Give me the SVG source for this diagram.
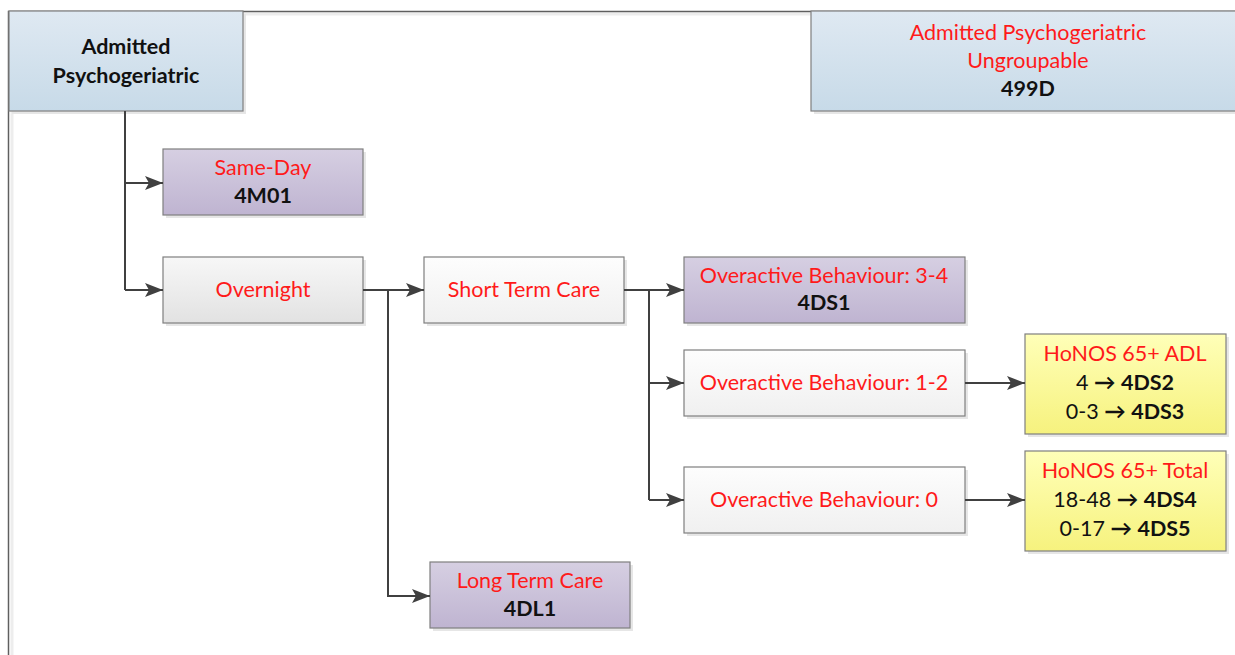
<svg xmlns="http://www.w3.org/2000/svg" width="1235" height="655" viewBox="0 0 1235 655">
  <defs>
    <linearGradient id="gBlue" x1="0" y1="0" x2="0" y2="1">
      <stop offset="0" stop-color="#dfe9f2"/>
      <stop offset="1" stop-color="#c7dae8"/>
    </linearGradient>
    <linearGradient id="gPurple" x1="0" y1="0" x2="0" y2="1">
      <stop offset="0" stop-color="#d6cfe2"/>
      <stop offset="1" stop-color="#bfb4d1"/>
    </linearGradient>
    <linearGradient id="gGray" x1="0" y1="0" x2="0" y2="1">
      <stop offset="0" stop-color="#f7f7f7"/>
      <stop offset="1" stop-color="#e2e2e2"/>
    </linearGradient>
    <linearGradient id="gWhite" x1="0" y1="0" x2="0" y2="1">
      <stop offset="0" stop-color="#fdfdfd"/>
      <stop offset="1" stop-color="#f0f0f0"/>
    </linearGradient>
    <linearGradient id="gYellow" x1="0" y1="0" x2="0" y2="1">
      <stop offset="0" stop-color="#ffffb8"/>
      <stop offset="1" stop-color="#f6f27e"/>
    </linearGradient>
    <marker id="arrow" markerWidth="18" markerHeight="16" refX="18" refY="8" orient="auto" markerUnits="userSpaceOnUse">
      <path d="M0,1 L18,8 L0,15 L4,8 Z" fill="#404040"/>
    </marker>
    <style>
      .box { stroke: #7f7f7f; stroke-width: 1.2; }
      .shadow { fill: #e6e6e6; }
      .t { font-family: Lato, "Open Sans", "Liberation Sans", sans-serif; font-size: 21.5px; text-anchor: middle; }
      .red { fill: #ff1a1a; }
      .blk { fill: #111111; }
      .b { font-weight: bold; }
      .ar { font-weight: bold; }
      .conn { fill: none; stroke: #404040; stroke-width: 2; }
    </style>
  </defs>

  <rect width="1235" height="655" fill="#ffffff"/>

  <!-- page frame -->
  <g id="frame">
    <path d="M12,660 V14 H1240" fill="none" stroke="#ededed" stroke-width="3"/>
    <path d="M8.5,660 V11.5 H1240" fill="none" stroke="#5f5f5f" stroke-width="1.5"/>
  </g>

  <g id="root">
    <rect class="shadow" x="12" y="14" width="234" height="100"/>
    <rect class="box" x="9" y="11" width="234" height="100" fill="url(#gBlue)"/>
    <text class="t b blk" x="126" y="54">Admitted</text>
    <text class="t b blk" x="126" y="83">Psychogeriatric</text>
  </g>

  <g id="ungroupable">
    <rect class="shadow" x="814" y="14" width="440" height="100"/>
    <rect class="box" x="811" y="11" width="436" height="100" fill="url(#gBlue)"/>
    <text class="t red" x="1028" y="40">Admitted Psychogeriatric</text>
    <text class="t red" x="1028" y="68">Ungroupable</text>
    <text class="t b blk" x="1028" y="96">499D</text>
  </g>

  <g id="same-day">
    <rect class="shadow" x="166" y="152" width="200" height="66"/>
    <rect class="box" x="163" y="149" width="200" height="66" fill="url(#gPurple)"/>
    <text class="t red" x="263" y="175">Same-Day</text>
    <text class="t b blk" x="263" y="203">4M01</text>
  </g>

  <g id="overnight">
    <rect class="shadow" x="166" y="260" width="200" height="66"/>
    <rect class="box" x="163" y="257" width="200" height="66" fill="url(#gGray)"/>
    <text class="t red" x="263" y="297">Overnight</text>
  </g>

  <g id="short-term-care">
    <rect class="shadow" x="427" y="260" width="200" height="66"/>
    <rect class="box" x="424" y="257" width="200" height="66" fill="url(#gWhite)"/>
    <text class="t red" x="524" y="297">Short Term Care</text>
  </g>

  <g id="long-term-care">
    <rect class="shadow" x="433" y="565" width="200" height="66"/>
    <rect class="box" x="430" y="562" width="200" height="66" fill="url(#gPurple)"/>
    <text class="t red" x="530" y="588">Long Term Care</text>
    <text class="t b blk" x="530" y="616">4DL1</text>
  </g>

  <g id="overactive-3-4">
    <rect class="shadow" x="687" y="260" width="281" height="66"/>
    <rect class="box" x="684" y="257" width="281" height="66" fill="url(#gPurple)"/>
    <text class="t red" x="824" y="283">Overactive Behaviour: 3-4</text>
    <text class="t b blk" x="824" y="310">4DS1</text>
  </g>

  <g id="overactive-1-2">
    <rect class="shadow" x="687" y="353" width="281" height="66"/>
    <rect class="box" x="684" y="350" width="281" height="66" fill="url(#gWhite)"/>
    <text class="t red" x="824" y="390">Overactive Behaviour: 1-2</text>
  </g>

  <g id="overactive-0">
    <rect class="shadow" x="687" y="470" width="281" height="66"/>
    <rect class="box" x="684" y="467" width="281" height="66" fill="url(#gWhite)"/>
    <text class="t red" x="824" y="507">Overactive Behaviour: 0</text>
  </g>

  <g id="honos-adl">
    <rect class="shadow" x="1028" y="337" width="201" height="100"/>
    <rect class="box" x="1025" y="334" width="201" height="100" fill="url(#gYellow)"/>
    <text class="t red" x="1125" y="361">HoNOS 65+ ADL</text>
    <text class="t blk" x="1125" y="390">4 <tspan class="ar">→</tspan> <tspan class="b">4DS2</tspan></text>
    <text class="t blk" x="1125" y="419">0-3 <tspan class="ar">→</tspan> <tspan class="b">4DS3</tspan></text>
  </g>

  <g id="honos-total">
    <rect class="shadow" x="1028" y="454" width="201" height="100"/>
    <rect class="box" x="1025" y="451" width="201" height="100" fill="url(#gYellow)"/>
    <text class="t red" x="1125" y="478">HoNOS 65+ Total</text>
    <text class="t blk" x="1125" y="507">18-48 <tspan class="ar">→</tspan> <tspan class="b">4DS4</tspan></text>
    <text class="t blk" x="1125" y="536">0-17 <tspan class="ar">→</tspan> <tspan class="b">4DS5</tspan></text>
  </g>

  <!-- connectors -->
  <g id="connectors">
    <path class="conn" d="M125,111 V290"/>
    <path class="conn" d="M125,183 H163" marker-end="url(#arrow)"/>
    <path class="conn" d="M125,290 H163" marker-end="url(#arrow)"/>
    <path class="conn" d="M363,290 H424" marker-end="url(#arrow)"/>
    <path class="conn" d="M388,290 V596 H430" marker-end="url(#arrow)"/>
    <path class="conn" d="M624,290 H684" marker-end="url(#arrow)"/>
    <path class="conn" d="M649,290 V500"/>
    <path class="conn" d="M649,383 H684" marker-end="url(#arrow)"/>
    <path class="conn" d="M649,500 H684" marker-end="url(#arrow)"/>
    <path class="conn" d="M965,383 H1025" marker-end="url(#arrow)"/>
    <path class="conn" d="M965,500 H1025" marker-end="url(#arrow)"/>
  </g>
</svg>
